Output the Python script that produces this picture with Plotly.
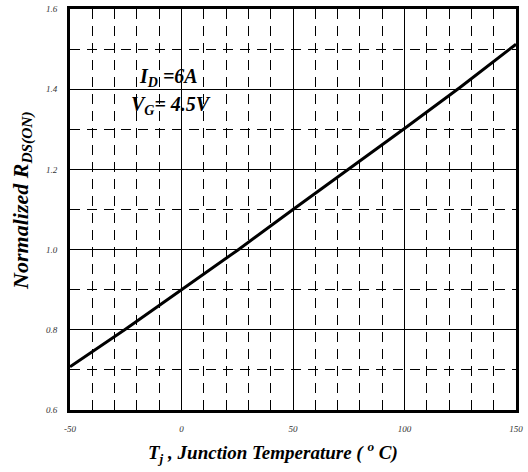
import plotly.graph_objects as go

temps = [-50, -25, 0, 25, 50, 75, 100, 125, 150]
rdson = [0.708, 0.802, 0.900, 0.998, 1.100, 1.200, 1.302, 1.405, 1.512]
x_ticks = [-50, 0, 50, 100, 150]
y_ticks = [0.6, 0.8, 1.0, 1.2, 1.4, 1.6]
y_tick_text = ["0.6", "0.8", "1.0", "1.2", "1.4", "1.6"]
x_title = "T<sub>j</sub> , Junction Temperature ( <sup>o</sup> C)"
y_title = "Normalized R<sub>DS(ON)</sub>"
cond_lines = ["I<sub>D</sub> =6A", "V<sub>G</sub>= 4.5V"]

SERIF = "Liberation Serif, Times New Roman, serif"

fig = go.Figure()
fig.add_trace(go.Scatter(x=temps, y=rdson, mode="lines",
                         line=dict(color="black", width=3), showlegend=False,
                         hoverinfo="skip"))

tickfont = dict(family=SERIF, size=9, color="#333333", style="italic")

fig.update_xaxes(range=[-50, 150], tickvals=x_ticks, ticktext=[str(v) for v in x_ticks],
                 showgrid=True, gridcolor="black", gridwidth=1,
                 minor=dict(dtick=10, tick0=-50, showgrid=True, gridcolor="black",
                            gridwidth=1, griddash="10px,7px", ticks=""),
                 showline=True, linecolor="black", linewidth=3, mirror=True,
                 ticks="", tickfont=tickfont, zeroline=False, ticklabelstandoff=8)
fig.update_yaxes(range=[0.6, 1.6], tickvals=y_ticks, ticktext=y_tick_text,
                 showgrid=True, gridcolor="black", gridwidth=1,
                 minor=dict(dtick=0.1, tick0=0.6, showgrid=True, gridcolor="black",
                            gridwidth=1, griddash="10px,7px", ticks=""),
                 showline=True, linecolor="black", linewidth=3, mirror=True,
                 ticks="", tickfont=tickfont, zeroline=False, ticklabelstandoff=8)

titlefont = dict(family=SERIF, size=19, color="black", weight="bold", style="italic")
fig.add_annotation(x=0.455, y=-0.107, xref="paper", yref="paper", text=x_title,
                   showarrow=False, xanchor="center", yanchor="middle", font=titlefont)
fig.add_annotation(x=-0.108, y=0.521, xref="paper", yref="paper", text=y_title,
                   textangle=-90, showarrow=False, xanchor="center", yanchor="middle",
                   font=dict(titlefont, size=22))

annfont = dict(family=SERIF, size=20, color="black", weight="bold", style="italic")
fig.add_annotation(x=-20, y=1.43, xref="x", yref="y", text=cond_lines[0],
                   showarrow=False, xanchor="left", yanchor="middle", font=annfont)
fig.add_annotation(x=-23.5, y=1.36, xref="x", yref="y", text=cond_lines[1],
                   showarrow=False, xanchor="left", yanchor="middle", font=annfont)

fig.update_layout(width=528, height=472, plot_bgcolor="white", paper_bgcolor="white",
                  margin=dict(l=70, r=12, t=9, b=62, autoexpand=False))

fig.write_html("out.html", config={"displayModeBar": False},
               post_script="document.body.style.margin='0px';")
